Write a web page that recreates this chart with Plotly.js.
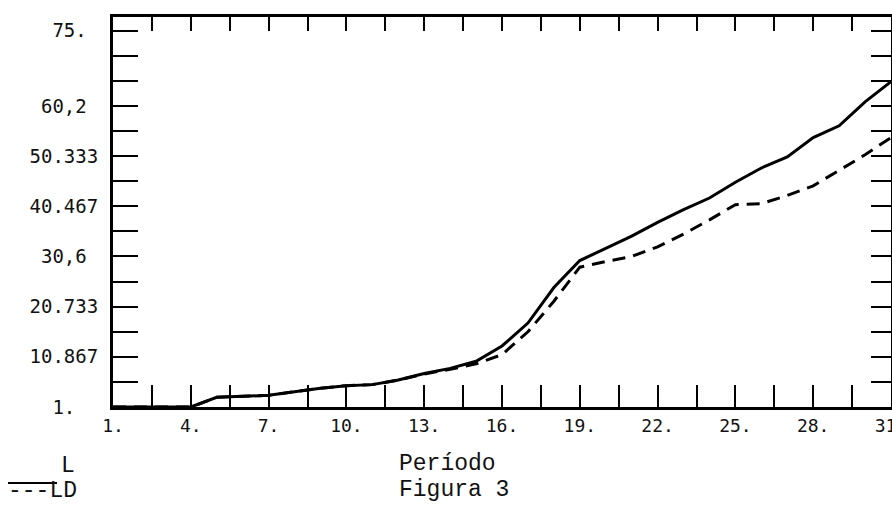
<!DOCTYPE html>
<html>
<head>
<meta charset="utf-8">
<script src="https://cdn.plot.ly/plotly-3.0.1.min.js"></script>
<style>
  html, body { margin: 0; padding: 0; background: #fff; }
  #chart { width: 892px; height: 508px; }
</style>
</head>
<body>
<div id="chart"></div>
<script>
// Período (x)
const periods = [1,2,3,4,5,6,7,8,9,10,11,12,13,14,15,16,17,18,19,20,21,22,23,24,25,26,27,28,29,30,31];
// Series L (solid)
const L  = [1,1,1,1,2.9,3.1,3.3,4.0,4.7,5.2,5.4,6.3,7.6,8.6,10.0,13.0,17.5,24.5,29.8,32.2,34.6,37.3,39.8,42.1,45.2,48.0,50.2,54.0,56.3,61.0,65.0];
// Series LD (dashed)
const LD = [1,1,1,1,2.9,3.1,3.3,4.0,4.7,5.2,5.4,6.3,7.5,8.4,9.5,11.3,15.8,21.8,28.5,29.6,30.6,32.5,35.0,37.8,40.8,41.0,42.6,44.5,47.6,50.6,54.0];

// Y tick marks and labels (as printed; centred with non-breaking spaces)
const yTickVals  = [1,5.933,10.867,15.8,20.733,25.667,30.6,35.533,40.467,45.4,50.333,55.267,60.2,65.133,70.067,75];
const yTickText  = ["1.","","10.867","","20.733","","30,6","","40.467","","50.333","","60,2","","","75."];
// X tick marks and labels
const xTickVals  = [1,2.5,4,5.5,7,8.5,10,11.5,13,14.5,16,17.5,19,20.5,22,23.5,25,26.5,28,29.5,31];
const xTickText  = ["1.","","4.","","7.","","10.","","13.","","16.","","19.","","22.","","25.","","28.","","31."];

const NB = '\u00A0';
function centre(s, w) {
  if (!s) return s;
  const pad = w - s.length, left = Math.ceil(pad / 2), right = pad - left;
  return NB.repeat(left) + s + NB.repeat(right);
}
const yTickShown = yTickText.map(s => centre(s, 6));

const mono = "DejaVu Sans Mono, monospace";
const courier = "Liberation Mono, Courier New, monospace";

const traces = [
  {x: periods, y: L, type: 'scatter', mode: 'lines', name: 'L',
   line: {color: '#000', width: 3}, xaxis: 'x', yaxis: 'y'},
  {x: periods, y: LD, type: 'scatter', mode: 'lines', name: 'LD',
   line: {color: '#000', width: 3, dash: '13px,8px'}, xaxis: 'x', yaxis: 'y'},
  {x: [], y: [], type: 'scatter', mode: 'lines', xaxis: 'x2', yaxis: 'y2', showlegend: false, hoverinfo: 'skip'}
];

const layout = {
  width: 892, height: 508,
  margin: {l: 113, r: 1, t: 17, b: 101},
  paper_bgcolor: '#fff', plot_bgcolor: '#fff',
  showlegend: false,
  xaxis: {
    range: [1, 31], showgrid: false, zeroline: false,
    showline: true, linecolor: '#000', linewidth: 3, mirror: true,
    tickmode: 'array', tickvals: xTickVals, ticktext: xTickText,
    ticks: 'inside', ticklen: 22, tickwidth: 2, tickcolor: '#000',
    ticklabeloverflow: 'allow',
    tickfont: {family: mono, size: 18, color: '#111'}
  },
  yaxis: {
    range: [1, 77.7], showgrid: false, zeroline: false,
    showline: true, linecolor: '#000', linewidth: 3, mirror: true,
    tickmode: 'array', tickvals: yTickVals, ticktext: yTickShown,
    ticks: 'inside', ticklen: 25, tickwidth: 2, tickcolor: '#000',
    ticklabelstandoff: 8,
    tickfont: {family: mono, size: 19, color: '#111'}
  },
  xaxis2: {
    overlaying: 'x', side: 'top', anchor: 'y2', range: [1, 31],
    showgrid: false, zeroline: false, showline: false,
    tickmode: 'array', tickvals: xTickVals, showticklabels: false,
    ticks: 'inside', ticklen: 14, tickwidth: 2, tickcolor: '#000'
  },
  yaxis2: {
    overlaying: 'y', side: 'right', anchor: 'x2', range: [1, 77.7],
    showgrid: false, zeroline: false, showline: false,
    tickmode: 'array', tickvals: yTickVals, showticklabels: false,
    ticks: 'inside', ticklen: 20, tickwidth: 2, tickcolor: '#000'
  },
  shapes: [
    {type: 'line', xref: 'paper', yref: 'paper', x0: (8-113)/778, x1: (57-113)/778, y0: -76/390, y1: -76/390,
     line: {color: '#000', width: 2}}
  ],
  annotations: [
    {text: 'Período', xref: 'paper', yref: 'paper', x: (397-113)/778, y: -(464-407)/390,
     xanchor: 'left', yanchor: 'middle', showarrow: false,
     font: {family: courier, size: 23, color: '#111'}},
    {text: 'Figura 3', xref: 'paper', yref: 'paper', x: (397-113)/778, y: -(490-407)/390,
     xanchor: 'left', yanchor: 'middle', showarrow: false,
     font: {family: courier, size: 23, color: '#111'}},
    {text: 'L', xref: 'paper', yref: 'paper', x: (59-113)/778, y: -(466-407)/390,
     xanchor: 'left', yanchor: 'middle', showarrow: false,
     font: {family: courier, size: 23, color: '#111'}},
    {text: '---LD', xref: 'paper', yref: 'paper', x: (6-113)/778, y: -(491-407)/390,
     xanchor: 'left', yanchor: 'middle', showarrow: false,
     font: {family: courier, size: 23, color: '#111'}}
  ]
};

Plotly.newPlot('chart', traces, layout, {staticPlot: true, displayModeBar: false});
</script>
</body>
</html>
